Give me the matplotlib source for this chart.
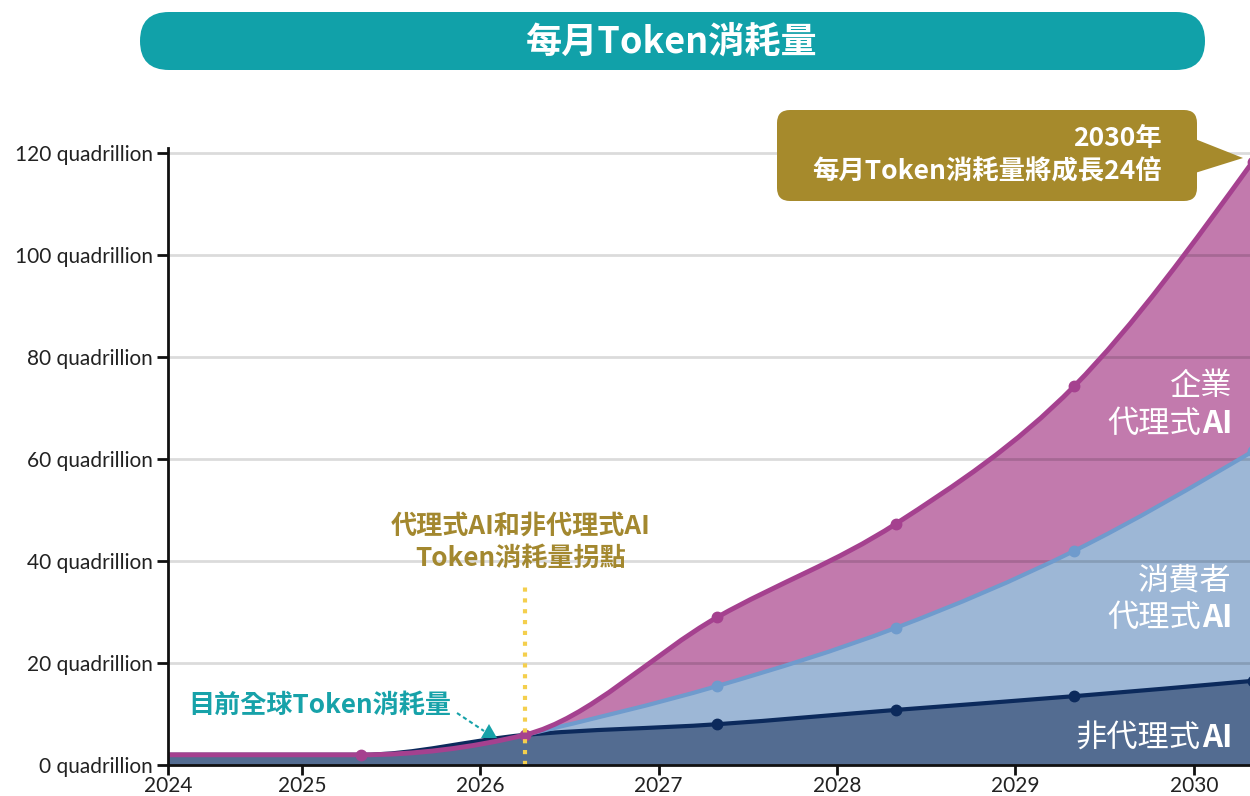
import numpy as np
import matplotlib
matplotlib.use("Agg")
import matplotlib.pyplot as plt
from matplotlib.path import Path
from matplotlib.patches import PathPatch, FancyBboxPatch, Polygon

plt.rcParams['font.family'] = ['Noto Sans CJK TC', 'DejaVu Sans']

# ---------------- data ----------------
dates = [2024.25, 2025.33, 2026.25, 2027.33, 2028.33, 2029.33, 2030.33]
non_agentic = [2.0, 2.0, 5.9, 8.0, 10.8, 13.5, 16.5]       # 非代理式AI
consumer = [0.0, 0.0, 0.0, 7.5, 16.1, 28.5, 45.0]           # 消費者代理式AI
enterprise = [0.0, 0.0, 0.0, 13.5, 20.4, 32.3, 56.8]        # 企業代理式AI
year_ticks = [2024.25, 2025, 2026, 2027, 2028, 2029, 2030]
year_labels = ['2024', '2025', '2026', '2027', '2028', '2029', '2030']
y_ticks = [0, 20, 40, 60, 80, 100, 120]
inflection_date = 2026.25

# ---------------- colors ----------------
C_DARK_FILL = '#536c91'
C_DARK_LINE = '#0c2a5c'
C_BLUE_FILL = '#9db7d6'
C_BLUE_LINE = '#6f9bcd'
C_PINK_FILL = '#c27aad'
C_PINK_LINE = '#a5418f'
C_TEAL = '#11a1a9'
C_GOLD = '#a68a2c'
C_GOLD_TXT = '#a3882f'
C_YELLOW = '#f4cf4d'


def monotone_tangents(x, y):
    x = np.asarray(x, float)
    y = np.asarray(y, float)
    n = len(x)
    h = np.diff(x)
    s = np.diff(y) / h
    t = np.zeros(n)
    for i in range(1, n - 1):
        s0, s1 = s[i - 1], s[i]
        p = (s0 * h[i] + s1 * h[i - 1]) / (h[i - 1] + h[i])
        v = (np.sign(s0) + np.sign(s1)) * min(abs(s0), abs(s1), 0.5 * abs(p))
        t[i] = v if v else 0.0
    t[0] = (3 * s[0] - t[1]) / 2
    t[-1] = (3 * s[-1] - t[-2]) / 2
    return t


def bezier_segments(x, y, t):
    segs = []
    for i in range(len(x) - 1):
        dx = (x[i + 1] - x[i]) / 3
        segs.append(((x[i], y[i]), (x[i] + dx, y[i] + dx * t[i]),
                     (x[i + 1] - dx, y[i + 1] - dx * t[i + 1]), (x[i + 1], y[i + 1])))
    return segs


def curve_path(segs):
    verts = [segs[0][0]]
    codes = [Path.MOVETO]
    for s in segs:
        verts += [s[1], s[2], s[3]]
        codes += [Path.CURVE4] * 3
    return Path(verts, codes)


def band_path(upper, lower):
    verts = [upper[0][0]]
    codes = [Path.MOVETO]
    for s in upper:
        verts += [s[1], s[2], s[3]]
        codes += [Path.CURVE4] * 3
    verts.append(lower[-1][3])
    codes.append(Path.LINETO)
    for s in reversed(lower):
        verts += [s[2], s[1], s[0]]
        codes += [Path.CURVE4] * 3
    verts.append(upper[0][0])
    codes.append(Path.CLOSEPOLY)
    return Path(verts, codes)


x = np.array(dates)
dark_top = np.array(non_agentic)
blue_top = dark_top + np.array(consumer)
total = blue_top + np.array(enterprise)
k = dates.index(inflection_date)

seg_dark = bezier_segments(x, dark_top, monotone_tangents(x, dark_top))
seg_total = bezier_segments(x, total, monotone_tangents(x, total))
seg_blue = bezier_segments(x[k:], blue_top[k:], monotone_tangents(x[k:], blue_top[k:]))
seg_zero = bezier_segments(x, np.zeros_like(x), np.zeros_like(x))

# ---------------- figure ----------------
W, H = 1250, 796
fig = plt.figure(figsize=(W / 100, H / 100), dpi=100)


def fx(px):
    return px / W


def fy(py):
    return 1 - py / H


ax = fig.add_axes([fx(168), fy(765), 1 - fx(168), fy(148) - fy(765)])
ax.set_xlim(2024.25, 2030.315)
ax.set_ylim(0, 121)

# fills
ax.add_patch(PathPatch(band_path(seg_dark, seg_zero), facecolor=C_DARK_FILL, edgecolor='none', zorder=1))
ax.add_patch(PathPatch(band_path(seg_blue, seg_dark[k:]), facecolor=C_BLUE_FILL, edgecolor='none', zorder=1))
ax.add_patch(PathPatch(band_path(seg_total[k:], seg_blue), facecolor=C_PINK_FILL, edgecolor='none', zorder=1))

# grid (subtle, visible through fills)
for v in y_ticks[1:]:
    ax.axhline(v, color='black', alpha=0.14, lw=2, zorder=2)

# lines
ax.add_patch(PathPatch(curve_path(seg_dark), facecolor='none', edgecolor=C_DARK_LINE, lw=3, zorder=3, capstyle='round'))
ax.add_patch(PathPatch(curve_path(seg_blue), facecolor='none', edgecolor=C_BLUE_LINE, lw=3, zorder=3, capstyle='round'))
ax.add_patch(PathPatch(curve_path(seg_total), facecolor='none', edgecolor=C_PINK_LINE, lw=3.5, zorder=4, capstyle='round'))

# markers
ax.plot(x[k + 1:], dark_top[k + 1:], 'o', color=C_DARK_LINE, ms=7.5, zorder=5)
ax.plot(x[k + 1:], blue_top[k + 1:], 'o', color=C_BLUE_LINE, ms=7.5, zorder=5)
ax.plot(x[1:], total[1:], 'o', color=C_PINK_LINE, ms=7.5, zorder=6)

# inflection dotted line
ax.plot([inflection_date, inflection_date], [0, 35.7], color=C_YELLOW, lw=3,
        linestyle=(0, (1, 1.6)), zorder=7)

# axes styling
for sp in ['top', 'right']:
    ax.spines[sp].set_visible(False)
for sp in ['left', 'bottom']:
    ax.spines[sp].set_linewidth(2)
    ax.spines[sp].set_color('#111111')
    ax.spines[sp].set_zorder(8)
ax.set_yticks(y_ticks)
ax.set_yticklabels([f'{v} quadrillion' for v in y_ticks], fontfamily='Lato', fontsize=15, color='#222222')
ax.set_xticks(year_ticks)
ax.set_xticklabels(year_labels, fontfamily='Lato', fontsize=15, color='#222222')
ax.tick_params(axis='y', length=8, width=2, pad=3, color='#111111')
ax.tick_params(axis='x', length=7, width=2, pad=1, color='#111111')
ax.set_facecolor('white')

# ---------------- overlay (pixel coords) ----------------
ov = fig.add_axes([0, 0, 1, 1], zorder=10)
ov.set_xlim(0, W)
ov.set_ylim(H, 0)
ov.axis('off')
ov.patch.set_alpha(0)

# title bar
ov.add_patch(FancyBboxPatch((140, 12), 1065, 58, boxstyle='round,pad=0,rounding_size=29',
                            facecolor=C_TEAL, edgecolor='none'))
ov.text(672, 42, '每月Token消耗量', color='white', fontsize=26, fontweight='bold',
        ha='center', va='center')

# callout
ov.add_patch(FancyBboxPatch((777, 110), 420, 91, boxstyle='round,pad=0,rounding_size=13',
                            facecolor=C_GOLD, edgecolor='none'))
ov.add_patch(Polygon([(1195, 139), (1243, 158), (1195, 173)], closed=True,
                     facecolor=C_GOLD, edgecolor='none'))
ov.text(1162, 139, '2030年', color='white', fontsize=19, fontweight='bold', ha='right', va='center')
ov.text(1162, 171, '每月Token消耗量將成長24倍', color='white', fontsize=19, fontweight='bold',
        ha='right', va='center')

# inflection annotation
ov.text(521, 526, '代理式AI和非代理式AI', color=C_GOLD_TXT, fontsize=18.8, fontweight='bold',
        ha='center', va='center')
ov.text(521, 558, 'Token消耗量拐點', color=C_GOLD_TXT, fontsize=18.8, fontweight='bold',
        ha='center', va='center')

# current consumption annotation
ov.text(188, 705, '目前全球Token消耗量', color='#17a2a9', fontsize=18.8, fontweight='bold',
        ha='left', va='center')
ov.plot([457, 484], [713, 731], color='#17a2a9', lw=1.5, linestyle=(0, (2, 1.5)))
ov.add_patch(Polygon([(481, 738), (497, 738), (489, 724)], closed=True,
                     facecolor='#17a2a9', edgecolor='none'))

# area labels (Chinese regular, "AI" bold)
renderer = fig.canvas.get_renderer()
lab_kw = dict(color='white', fontsize=22.5, va='center')


def area_label(py, cjk, ai):
    right = 1232
    if ai:
        t = ov.text(right, py, ai, ha='right', fontweight='bold', **lab_kw)
        bb = t.get_window_extent(renderer=renderer)
        right = bb.x0 - 1
    ov.text(right, py, cjk, ha='right', fontweight='normal', **lab_kw)


area_label(386, '企業', '')
area_label(424, '代理式', 'AI')
area_label(580, '消費者', '')
area_label(618, '代理式', 'AI')
area_label(738, '非代理式', 'AI')

fig.savefig('out.png', dpi=100)
